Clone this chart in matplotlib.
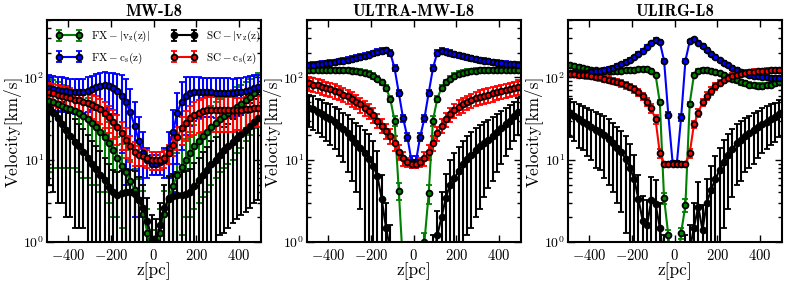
import matplotlib
matplotlib.use('Agg')
import matplotlib.pyplot as plt

plt.rcParams['font.family'] = 'serif'
plt.rcParams['font.serif'] = ['cmr10']
plt.rcParams['mathtext.fontset'] = 'cm'
plt.rcParams['axes.formatter.use_mathtext'] = True
plt.rcParams['axes.unicode_minus'] = True

# bin centres in pc
z = [-490, -470, -450, -430, -410, -390, -370, -350, -330, -310,
     -290, -270, -250, -230, -210, -190, -170, -150, -130, -110,
     -90, -70, -50, -30, -10, 10, 30, 50, 70, 90,
     110, 130, 150, 170, 190, 210, 230, 250, 270, 290,
     310, 330, 350, 370, 390, 410, 430, 450, 470, 490]

titles = ['MW-L8', 'ULTRA-MW-L8', 'ULIRG-L8']
labels = [r'$\mathrm{FX-|v_z(z)|}$', r'$\mathrm{FX-c_s(z)}$',
          r'$\mathrm{SC-|v_z(z)|}$', r'$\mathrm{SC-c_s(z)}$']
colors = ['g', 'b', 'k', 'r']

# ---- MW-L8 ----
mw_fx_vz = [52, 50, 48, 45, 43, 41, 39, 37, 34, 31, 28, 25, 22, 19, 16, 13, 10.5, 8.5, 7, 5.5,
            4.3, 3.2, 2.2, 1.3, 0.7, 0.7, 1.3, 2.2, 3.3, 4.8, 6.5, 8.2, 10, 12, 14.5, 17, 19.5, 22, 25, 28,
            31, 34, 37, 40, 44, 48, 53, 58, 64, 72]
mw_fx_vz_err = [45, 42, 40, 37, 35, 33, 31, 30, 28, 25, 23, 20, 18, 15, 13, 11, 8.5, 7, 6, 4.5,
                3.5, 2.7, 2, 1.2, 0.7, 0.7, 1.2, 2, 2.8, 4, 5.5, 7, 8, 10, 12, 14, 16, 18, 20, 22,
                24, 26, 28, 30, 32, 34, 36, 38, 40, 42]
mw_fx_cs = [74, 72, 70, 69, 68, 67, 66, 66, 67, 69, 72, 76, 79, 80, 78, 74, 68, 60, 50, 38,
            26, 17, 12, 10, 9, 9, 9.5, 10, 14, 22, 37, 51, 60, 64, 66, 66, 66, 66, 66, 65,
            65, 65, 65, 65, 66, 67, 69, 71, 74, 76]
mw_fx_cs_err = [33, 32, 31, 31, 30, 30, 30, 30, 30, 31, 32, 34, 36, 37, 37, 38, 42, 48, 45, 34,
                24, 16, 10, 4, 2.5, 2.5, 3, 4, 8, 18, 28, 38, 40, 38, 36, 34, 33, 33, 33, 33,
                33, 33, 33, 32, 32, 32, 32, 32, 32, 32]
mw_sc_vz = [43, 37, 32, 27, 23, 19.5, 16.5, 14.5, 12.5, 10.5, 9, 7.8, 6.6, 5.6, 4.7, 4.0, 3.7, 3.9, 4.1, 4.0,
            3.8, 3.2, 2.6, 1.8, 1.1, 1.0, 1.6, 2.6, 3.4, 3.6, 3.7, 3.7, 3.8, 4.1, 4.8, 5.6, 6.6, 7.6, 8.8, 10,
            11.5, 13, 14.5, 16.5, 18.5, 20.5, 23, 26, 29, 32]
mw_sc_vz_err = [38, 33, 29, 24, 21, 17.5, 15, 13, 11, 9.5, 8, 7, 6, 5, 4.2, 3.6, 3.3, 3.5, 3.7, 3.6,
                3.4, 2.9, 2.3, 1.6, 1.0, 0.9, 1.4, 2.3, 3.0, 3.2, 3.3, 3.3, 3.4, 3.7, 4.3, 5.0, 5.9, 6.8, 7.9, 9,
                10.3, 11.7, 13, 14.8, 16.6, 18.4, 20.7, 23.4, 26, 28.8]
mw_sc_cs = [66, 64, 62, 60, 58, 56, 54, 53, 51, 49, 46, 44, 41, 37, 33, 29, 25, 21, 17.5, 14.5,
            12.5, 11.5, 11, 10.5, 10, 10, 10, 10.5, 12, 15, 19, 24, 28, 32, 35, 37, 39, 40, 40, 40,
            40, 40, 40, 40, 40, 40, 41, 41, 42, 42]
mw_sc_cs_err = [20, 19, 19, 18, 18, 17, 17, 17, 16, 16, 15, 15, 14, 13, 12, 11, 10, 8, 7, 5,
                4, 3, 2.5, 2.5, 2.5, 2.5, 2.5, 2.5, 3, 4, 6, 9, 11, 13, 15, 16, 17, 18, 18, 18,
                18, 18, 18, 18, 17, 17, 17, 17, 17, 17]

# ---- ULTRA-MW-L8 ----
umw_fx_vz = [124, 124, 124, 124, 124, 124, 124, 123, 123, 122, 121, 120, 118, 115, 111, 105, 97, 87, 75, 55,
             30, 4.2, 0.5, 0.3, 0.3, 0.3, 0.3, 1.0, 3.9, 30, 55, 75, 87, 97, 105, 111, 115, 118, 120, 121,
             122, 123, 123, 124, 124, 124, 124, 124, 124, 124]
umw_fx_vz_err = [8, 8, 8, 8, 8, 8, 8, 8, 8, 8, 8, 8, 8, 8, 8, 8, 7, 7, 6, 5,
                 4, 1, 0.2, 0.1, 0.1, 0.1, 0.1, 0.3, 1, 4, 5, 6, 7, 7, 8, 8, 8, 8, 8, 8,
                 8, 8, 8, 8, 8, 8, 8, 8, 8, 8]
umw_fx_cs = [142, 143, 145, 147, 149, 151, 154, 157, 160, 164, 168, 173, 178, 184, 190, 197, 204, 211, 215, 200,
             130, 65, 32, 19, 9.5, 9.5, 19, 32, 65, 130, 200, 212, 207, 200, 193, 187, 181, 176, 171, 167,
             163, 160, 157, 154, 151, 149, 147, 145, 144, 143]
umw_fx_cs_err = [10, 10, 10, 10, 10, 11, 11, 11, 12, 12, 12, 13, 13, 14, 14, 15, 15, 16, 16, 15,
                 10, 5, 3, 2, 1.5, 1.5, 2, 3, 5, 10, 15, 16, 15, 15, 14, 14, 13, 13, 12, 12,
                 12, 12, 11, 11, 11, 11, 10, 10, 10, 10]
umw_sc_vz = [43, 41, 38, 36, 33, 31, 28.5, 26, 23.5, 21, 18.5, 16, 14, 12, 10.3, 8.5, 6.3, 3.3, 1.5, 0.8,
             0.5, 0.4, 0.3, 0.3, 0.3, 0.3, 0.3, 0.3, 0.4, 0.6, 1.2, 2.0, 3.4, 5.0, 6.0, 7.2, 8.8, 10.2, 11.5, 13,
             14.5, 16, 17.5, 19.5, 21.5, 24, 27, 30, 34, 38]
umw_sc_vz_err = [18, 18, 17, 17, 16, 16, 15, 15, 14, 14, 13, 12, 11.5, 11, 10, 8.5, 6.3, 3.3, 1.5, 0.8,
                 0.5, 0.4, 0.3, 0.3, 0.3, 0.3, 0.3, 0.3, 0.4, 0.6, 1.2, 2.0, 3.4, 5.0, 6.0, 7.0, 8.0, 9.0, 10, 11,
                 12, 12.5, 13, 14, 14.5, 15, 16, 16.5, 17, 18]
umw_sc_cs = [85, 82, 80, 77, 74, 72, 69, 66, 62, 59, 55, 51, 47, 43, 39, 35, 30, 26, 22.5, 19.5,
             16, 12.5, 10.5, 9.3, 9, 9, 9.3, 10.5, 12.5, 16, 21, 26, 31, 36, 40, 44, 47, 50, 53, 56,
             58, 60, 62, 64, 66, 68, 70, 72, 74, 77]
umw_sc_cs_err = [17, 16, 16, 15, 15, 14, 14, 13, 12, 12, 11, 10, 9.5, 8.5, 8, 7, 6, 5, 4.5, 4,
                 3.2, 2.5, 2, 1.2, 1, 1, 1.2, 2, 2.5, 3.2, 4, 5, 6, 7, 8, 9, 9.5, 10, 10.5, 11,
                 11.5, 12, 12.5, 13, 13, 13.5, 14, 14.5, 15, 15]

# ---- ULIRG-L8 ----
ul_fx_vz = [140, 137, 133, 130, 127, 124, 122, 121, 120, 120, 120, 120, 121, 122, 123, 124, 126, 127, 126, 120,
            108, 50, 3.4, 1.2, 0.4, 0.4, 1.3, 2.8, 48, 108, 120, 123, 122, 120, 117, 112, 107, 102, 97, 92,
            88, 85, 82, 80, 79, 79, 80, 82, 85, 88]
ul_fx_vz_err = [7, 7, 7, 6, 6, 6, 6, 6, 6, 6, 6, 6, 6, 6, 6, 6, 6, 6, 6, 6,
                5, 3, 0.5, 0.2, 0.1, 0.1, 0.2, 0.5, 3, 5, 6, 6, 6, 6, 6, 6, 6, 6, 6, 6,
                6, 6, 6, 6, 6, 6, 6, 6, 6, 6]
ul_fx_cs = [115, 114, 113, 114, 115, 117, 119, 121, 124, 128, 132, 138, 145, 153, 163, 176, 192, 212, 235, 260,
            285, 270, 160, 35, 9.2, 9.2, 33, 160, 275, 290, 265, 240, 215, 195, 178, 162, 150, 140, 130, 123,
            117, 112, 108, 105, 103, 101, 100, 99, 98, 98]
ul_fx_cs_err = [6, 6, 6, 6, 6, 6, 6, 6, 6, 6, 7, 7, 7, 8, 8, 9, 10, 11, 12, 13,
                14, 13, 8, 3, 0.5, 0.5, 3, 8, 13, 14, 13, 12, 11, 10, 9, 8, 8, 7, 7, 6,
                6, 6, 6, 6, 5, 5, 5, 5, 5, 5]
ul_sc_vz = [37, 34, 31, 29, 27, 25, 23, 21.5, 20, 18, 16, 14, 12.3, 10.3, 8, 5.8, 3.3, 1.8, 1.6, 3.2,
            2.9, 1.5, 0.6, 0.4, 0.3, 0.3, 0.4, 0.6, 0.8, 1.5, 2.7, 1.4, 3.0, 4.3, 5.8, 7.5, 9.5, 11.5, 13.5, 16,
            17.5, 19.5, 21, 23, 25, 27, 29, 31, 33, 36]
ul_sc_vz_err = [18, 17, 17, 16, 16, 15, 15, 14, 14, 13, 12, 11, 10, 9, 7.5, 5.5, 3.2, 1.8, 1.6, 3.0,
                2.8, 1.5, 0.6, 0.4, 0.3, 0.3, 0.4, 0.6, 0.8, 1.5, 2.6, 1.4, 2.9, 4.0, 5.2, 6.5, 8, 9, 10, 11,
                12, 12.5, 13, 14, 14.5, 15, 15.5, 16, 16.5, 17]
ul_sc_cs = [110, 109, 108, 107, 106, 104, 102, 100, 97, 94, 91, 88, 85, 81, 77, 72, 66, 59, 51, 42,
            31, 12, 9, 9, 9, 9, 9, 9, 12, 27, 37, 50, 60, 69, 78, 86, 93, 99, 104, 108,
            111, 114, 116, 118, 119, 120, 121, 122, 122, 123]
ul_sc_cs_err = [9, 9, 9, 9, 9, 9, 9, 9, 9, 9, 8, 8, 8, 8, 7, 7, 7, 6, 6, 5,
                4, 1.5, 0.3, 0.3, 0.3, 0.3, 0.3, 0.3, 1.5, 3, 4, 5, 6, 7, 7, 8, 8, 8, 8, 8,
                8, 8, 8, 8, 8, 8, 8, 8, 8, 8]

panels = [
    [(mw_fx_vz, mw_fx_vz_err), (mw_fx_cs, mw_fx_cs_err), (mw_sc_vz, mw_sc_vz_err), (mw_sc_cs, mw_sc_cs_err)],
    [(umw_fx_vz, umw_fx_vz_err), (umw_fx_cs, umw_fx_cs_err), (umw_sc_vz, umw_sc_vz_err), (umw_sc_cs, umw_sc_cs_err)],
    [(ul_fx_vz, ul_fx_vz_err), (ul_fx_cs, ul_fx_cs_err), (ul_sc_vz, ul_sc_vz_err), (ul_sc_cs, ul_sc_cs_err)],
]

fig = plt.figure(figsize=(7.89, 2.85), dpi=100)
lefts = [47/789, 307/789, 568/789]

for k in range(3):
    ax = fig.add_axes([lefts[k], 43/285, 213.5/789, 222/285])
    ax.set_yscale('log')
    for (vals, errs), c, lab in zip(panels[k], colors, labels):
        ax.errorbar(z, vals, yerr=errs, color=c, ecolor=c, lw=1.5, elinewidth=1.5,
                    capsize=2, capthick=1.5, marker='o', ms=4.2, mfc=c, mec='k', mew=1.3,
                    label=lab)
    ax.set_xlim(-500, 500)
    ax.set_ylim(1, 500)
    ax.set_xticks([-400, -200, 0, 200, 400])
    ax.tick_params(which='both', direction='in', top=True, right=True, width=1)
    ax.tick_params(axis='x', labelsize=10.5, pad=4)
    ax.tick_params(axis='y', labelsize=10, pad=2)
    ax.tick_params(which='major', length=5)
    ax.tick_params(which='minor', length=3)
    for s in ax.spines.values():
        s.set_linewidth(1.5)
    ax.set_xlabel('z[pc]', fontsize=12.5, labelpad=0)
    ax.set_ylabel('Velocity[km/s]', fontsize=12.5, labelpad=1)
    ax.set_title(titles[k], fontsize=12, fontfamily='cmb10', pad=3)
    if k == 0:
        ax.legend(loc='upper left', ncol=2, numpoints=2, frameon=False, fontsize=8,
                  handlelength=2.4, columnspacing=1.8, labelspacing=0.55,
                  borderaxespad=0.4, handletextpad=0.8)

fig.savefig('out.png', dpi=100)
